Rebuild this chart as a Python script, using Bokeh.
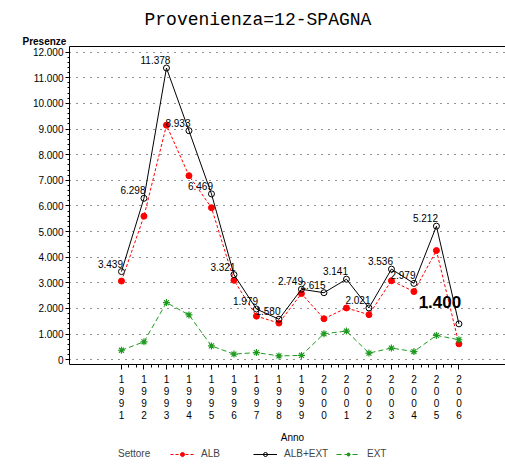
from bokeh.plotting import figure
from bokeh.layouts import column
from bokeh.models import Range1d, FixedTicker, LinearAxis, Title, Legend, LegendItem, ColumnDataSource
from bokeh.core.properties import value
from bokeh.embed import file_html
from bokeh.resources import INLINE

# ---- data ----
years = [1991, 1992, 1993, 1994, 1995, 1996, 1997, 1998, 1999, 2000, 2001, 2002, 2003, 2004, 2005, 2006]
alb_ext = [3439, 6298, 11378, 8933, 6469, 3321, 1979, 1580, 2749, 2615, 3141, 2021, 3536, 2979, 5212, 1400]
alb = [3070, 5600, 9150, 7180, 5930, 3100, 1700, 1430, 2580, 1600, 2020, 1760, 3080, 2660, 4260, 620]
ext = [370, 700, 2230, 1750, 540, 220, 280, 150, 170, 1015, 1120, 260, 456, 320, 950, 780]
y_ticks = [0, 1000, 2000, 3000, 4000, 5000, 6000, 7000, 8000, 9000, 10000, 11000, 12000]
y_tick_labels = ["0", "1.000", "2.000", "3.000", "4.000", "5.000", "6.000", "7.000",
                 "8.000", "9.000", "10.000", "11.000", "12.000"]
title_text = "Provenienza=12-SPAGNA"
y_title = "Presenze"
x_title = "Anno"
legend_title = "Settore"
series_names = ["ALB", "ALB+EXT", "EXT"]

point_labels = [f"{v:,}".replace(",", ".") for v in alb_ext]

FONT = "Liberation Sans"
RED = "#ff0000"
GREEN = "#1f9a1f"

p = figure(width=505, height=445, output_backend="svg", toolbar_location=None, title=None,
           x_range=Range1d(1988.69, 2008.07), y_range=Range1d(-185, 12218),
           min_border_left=69, min_border_right=0, min_border_top=46, min_border_bottom=80)
p.outline_line_color = None
p.background_fill_color = "white"
p.border_fill_color = "white"

# grid
p.xgrid.visible = False
p.ygrid.ticker = FixedTicker(ticks=y_ticks)
p.ygrid.grid_line_color = "#222222"
p.ygrid.grid_line_dash = "1 6"
p.ygrid.grid_line_width = 1

# y axis
p.yaxis.ticker = FixedTicker(ticks=y_ticks, minor_ticks=list(range(0, 12001, 200)))
p.yaxis.major_label_overrides = dict(zip(y_ticks, y_tick_labels))
p.yaxis.major_tick_in = 0
p.yaxis.major_tick_out = 4
p.yaxis.minor_tick_in = 0
p.yaxis.minor_tick_out = 2
p.yaxis.major_label_standoff = 2
p.yaxis.major_label_text_font = FONT
p.yaxis.major_label_text_font_size = "10px"
p.yaxis.major_label_text_color = "black"
p.yaxis.axis_line_color = "black"

# x axis
minor_x = [years[0] + k / 3 for k in range(0, 3 * (years[-1] - years[0]) + 1)]
p.xaxis.ticker = FixedTicker(ticks=years, minor_ticks=minor_x)
p.xaxis.major_label_overrides = {y: "\n".join(str(y)) for y in years}
p.xaxis.major_tick_in = 0
p.xaxis.major_tick_out = 5
p.xaxis.minor_tick_in = 0
p.xaxis.minor_tick_out = 3
p.xaxis.major_label_standoff = 4
p.xaxis.major_label_text_font = FONT
p.xaxis.major_label_text_font_size = "10px"
p.xaxis.major_label_text_color = "black"
p.xaxis.major_label_text_line_height = 1.1
p.xaxis.axis_line_color = "black"
p.xaxis.axis_label = "\u2003" + x_title
p.xaxis.axis_label_standoff = 8
p.xaxis.axis_label_text_font = FONT
p.xaxis.axis_label_text_font_size = "10px"
p.xaxis.axis_label_text_font_style = "normal"
p.xaxis.axis_label_text_color = "black"

# top frame line and titles
top_ax = LinearAxis(ticker=FixedTicker(ticks=[]), major_tick_line_color=None,
                    minor_tick_line_color=None, major_label_text_font_size="0px",
                    major_tick_out=0, minor_tick_out=0, major_label_standoff=0,
                    axis_line_color="black")
p.add_layout(top_ax, "above")
p.add_layout(Title(text=y_title, align="left", offset=-47, standoff=0, text_font=FONT,
                   text_font_size="10px", text_font_style="bold", text_color="black"), "above")
p.add_layout(Title(text=title_text, align="left", offset=75, standoff=8, text_font="Liberation Mono",
                   text_font_size="18px", text_font_style="normal", text_color="black"), "above")

# series
p.line(years, alb, line_color=RED, line_dash="3 2", line_width=1)
p.scatter(years, alb, marker="circle", size=6, fill_color=RED, line_color=RED)
p.line(years, alb_ext, line_color="black", line_width=1)
p.scatter(years, alb_ext, marker="circle", size=6, fill_color=None, line_color="black")
p.line(years, ext, line_color=GREEN, line_dash="5 3", line_width=1)
p.scatter(years, ext, marker="asterisk", size=7, line_color=GREEN, line_width=1.2)

# point labels
src = ColumnDataSource(dict(x=years[:-1], y=alb_ext[:-1], t=point_labels[:-1]))
p.text(x="x", y="y", text="t", source=src, x_offset=-11, y_offset=-8,
       text_align="center", text_baseline="middle", text_font=value(FONT),
       text_font_size="10px", text_color="black")
p.text(x=[years[-1]], y=[alb_ext[-1]], text=[point_labels[-1]], x_offset=-19, y_offset=-22,
       text_align="center", text_baseline="middle", text_font=value(FONT),
       text_font_size="17px", text_font_style="bold", text_color="black")

# legend strip below (proxy renderers use the same data, outside this strip's ranges)
lf = figure(width=505, height=20, output_backend="svg", toolbar_location=None, title=None,
            x_range=Range1d(0, 1), y_range=Range1d(0, 1), x_axis_type=None, y_axis_type=None,
            min_border=0)
lf.outline_line_color = None
lf.xgrid.visible = False
lf.ygrid.visible = False
d0 = lf.line(years, alb, line_alpha=0)
a_l = lf.line(years, alb, line_color=RED, line_dash="3 2", line_width=1)
a_m = lf.scatter(years, alb, marker="circle", size=6, fill_color=RED, line_color=RED)
t_l = lf.line(years, alb_ext, line_color="black", line_width=1)
t_m = lf.scatter(years, alb_ext, marker="circle", size=6, fill_color=None, line_color="black")
e_l = lf.line(years, ext, line_color=GREEN, line_dash="5 3", line_width=1)
e_m = lf.scatter(years, ext, marker="asterisk", size=7, line_color=GREEN, line_width=1.2)

legend = Legend(items=[LegendItem(label=legend_title, renderers=[d0]),
                       LegendItem(label=series_names[0], renderers=[a_l, a_m]),
                       LegendItem(label=series_names[1], renderers=[t_l, t_m]),
                       LegendItem(label=series_names[2], renderers=[e_l, e_m])],
                orientation="horizontal", location=(18, 6), padding=0, margin=0,
                spacing=1, glyph_width=24, glyph_height=10, label_standoff=7, label_width=51,
                label_text_font=FONT, label_text_font_size="10px", label_height=10,
                border_line_color=None, background_fill_alpha=0)
lf.add_layout(legend, "center")

layout = column(p, lf, spacing=0)
open("out.html", "w").write(file_html(layout, INLINE))
